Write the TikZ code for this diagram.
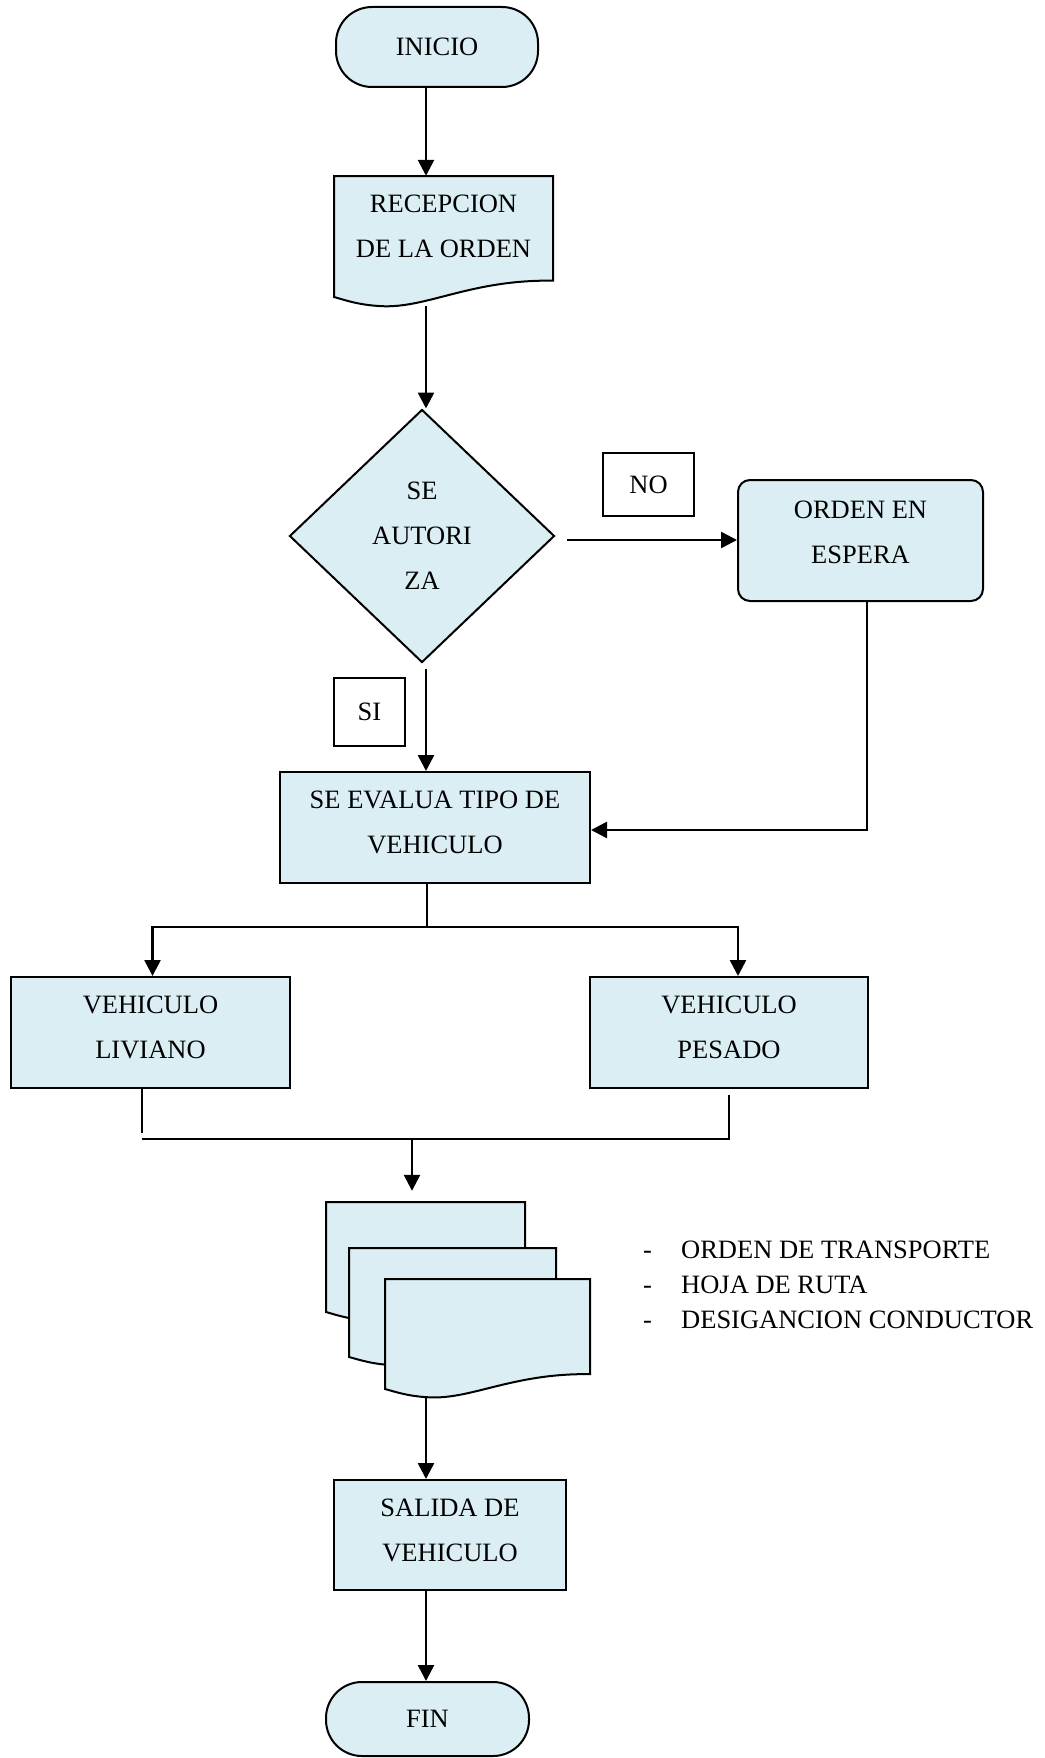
\documentclass[tikz,border=0pt]{standalone}
\usepackage{fontspec}
\setmainfont{Liberation Serif}
\usetikzlibrary{shapes.geometric,arrows.meta,calc}
\definecolor{boxfill}{RGB}{218,238,243}

% page of a document symbol: flat top, wavy bottom (unit square, y down)
\newcommand{\docpage}[4]{%
  \path[docshape,shift={(#1,#2)},xscale=#3,yscale=#4]
    (0,0) -- (1,0) -- (1,0.865)
    .. controls (0.62,0.855) and (0.42,1.10) .. (0.21,1.075)
    .. controls (0.11,1.065) and (0.05,1.025) .. (0,1) -- cycle;}

\begin{document}
\begin{tikzpicture}[x=1pt,y=-1pt,
  every node/.style={font=\fontsize{26.5pt}{45pt}\selectfont, align=center, inner sep=0pt},
  shapeborder/.style={draw=black, line width=2pt, fill=boxfill},
  docshape/.style={draw=black, line width=2pt, fill=boxfill, line join=miter},
  terminal/.style={shapeborder, rectangle, rounded corners=36pt},
  procbox/.style={shapeborder, rectangle},
  tagbox/.style={draw=black, line width=1.8pt, rectangle},
  legend/.style={anchor=west, text height=17.5pt, text depth=0pt},
  flow/.style={line width=2.6pt, -{Triangle[length=16pt,width=16pt]}},
  link/.style={line width=2pt},
]
\useasboundingbox (0,0) rectangle (1044,1758);

\coordinate (spine) at (426,0);

% start
\node[terminal, minimum width=202pt, minimum height=80pt] (inicio) at (437,47) {INICIO};

% order reception (document)
\docpage{334}{176}{219}{121}
\node[minimum width=219pt, minimum height=121pt, text depth=20pt] (recep) at (443.5,236.5) {RECEPCION\\DE LA ORDEN};

% authorisation decision
\node[shapeborder, diamond, minimum width=265pt, minimum height=253pt] (auth) at (422,536) {SE\\AUTORI\\ZA};
\node[tagbox, minimum width=91pt, minimum height=63pt] (nolbl) at (648.5,484.5) {NO};
\node[tagbox, minimum width=71pt, minimum height=68pt] (silbl) at (369.5,712) {SI};

% waiting order
\node[shapeborder, rounded corners=12pt, minimum width=245pt, minimum height=121pt, text depth=16pt] (wait) at (860.5,540.5) {ORDEN EN\\ESPERA};

% vehicle evaluation
\node[procbox, minimum width=310pt, minimum height=111pt, text depth=10pt] (eval) at (435,827.5) {SE EVALUA TIPO DE\\VEHICULO};

% vehicle types
\node[procbox, minimum width=279pt, minimum height=111pt, text depth=10pt] (liv) at (150.5,1032.5) {VEHICULO\\LIVIANO};
\node[procbox, minimum width=278pt, minimum height=111pt, text depth=10pt] (pes) at (729,1032.5) {VEHICULO\\PESADO};

% documents issued
\docpage{326}{1202}{199}{110}
\docpage{349}{1248}{207}{109}
\docpage{385}{1279}{205}{110}
\node[minimum width=199pt, minimum height=110pt] (backdoc) at (425.5,1257) {};
\node[minimum width=205pt, minimum height=110pt] (frontdoc) at (487.5,1334) {};

\node[legend] (leg1) at (643,1250) {\makebox[38pt][l]{-}ORDEN DE TRANSPORTE};
\node[legend] (leg2) at (643,1285) {\makebox[38pt][l]{-}HOJA DE RUTA};
\node[legend] (leg3) at (643,1320) {\makebox[38pt][l]{-}DESIGANCION CONDUCTOR};

% vehicle departure and end
\node[procbox, minimum width=232pt, minimum height=110pt, text depth=10pt] (sal) at (450,1535) {SALIDA DE\\VEHICULO};
\node[terminal, minimum width=203pt, minimum height=74pt] (fin) at (427.5,1719) {FIN};

% connectors
\draw[flow] (inicio.south -| spine) -- (recep.north -| spine);
\draw[flow] ($(recep.south -| spine)+(0,9)$) -- (auth.north -| spine);
\coordinate (nostart) at (567,540);
\draw[flow] (nostart) -- (wait.west |- nostart);
\draw[flow] ($(auth.south -| spine)+(0,5)$) -- (eval.north -| spine);
\draw[flow] ([xshift=6.5pt]wait.south) |- ([yshift=-2.5pt]eval.east);

\coordinate (split) at (427,927);
\draw[link] (eval.south -| split) -- (split);
\draw[flow] (split) -| ([xshift=2pt]liv.north);
\draw[flow] (split) -| ([xshift=9pt]pes.north);

\coordinate (merge) at (412,1139);
\draw[link] ([xshift=-8.5pt]liv.south) -- ++(0,44);
\draw[link] ($(pes.south)+(0,6)$) -- (pes.south |- merge) -- ([xshift=-8.5pt]liv.south |- merge);
\draw[flow] (merge) -- ($(backdoc.north -| merge)+(0,-11)$);

\draw[flow] ($(frontdoc.south -| spine)+(0,8)$) -- (sal.north -| spine);
\draw[flow] (sal.south -| spine) -- (fin.north -| spine);
\end{tikzpicture}
\end{document}
